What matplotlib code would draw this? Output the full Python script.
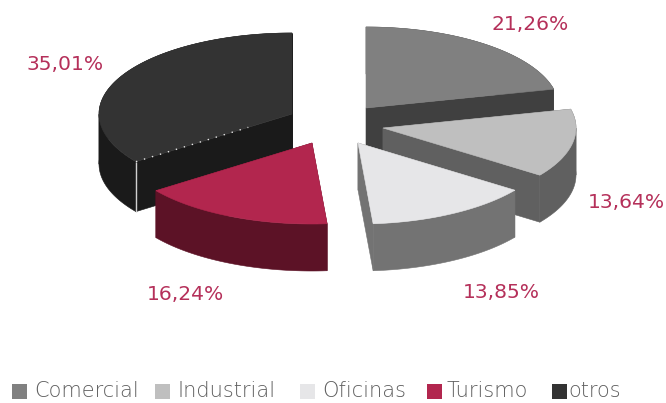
import numpy as np
import matplotlib
matplotlib.use("Agg")
import matplotlib.pyplot as plt
from matplotlib.patches import Polygon, Rectangle

categories = ["Comercial", "Industrial", "Oficinas", "Turismo", "otros"]
shares = [21.26, 13.64, 13.85, 16.24, 35.01]
value_labels = ["21,26%", "13,64%", "13,85%", "16,24%", "35,01%"]

top_colors = ["#808080", "#BFBFBF", "#E6E6E8", "#B2264E", "#333333"]
wall_colors = ["#404040", "#606060", "#737373", "#5C1226", "#1A1A1A"]
text_color = "#B5305A"
legend_text_color = "#5F5F5F"

# layout, in figure pixels
RX, RY = 193, 81
centers = [(366, 108), (383, 128), (358, 143), (312, 143), (292, 114)]
depths = [47, 47, 47, 47, 50]
label_pos = [(530, 24), (626, 203), (501, 293), (185, 295), (65, 65)]
legend_box_x = [12, 155, 300, 427, 552]
legend_text_x = [34, 178, 322, 447, 568]
legend_y = 391
draw_order = [4, 0, 1, 3, 2]

fig = plt.figure(figsize=(6.66, 4.03), dpi=100)
ax = fig.add_axes([0, 0, 1, 1])
ax.set_xlim(0, 666)
ax.set_ylim(403, 0)
ax.axis("off")

edges = np.concatenate([[0], np.cumsum(shares)]) / np.sum(shares) * 2 * np.pi


def arc(i):
    t = np.linspace(edges[i], edges[i + 1], 240)
    cx, cy = centers[i]
    return np.column_stack([cx + RX * np.sin(t), cy - RY * np.cos(t)])


def monotonic_runs(a):
    """Split an arc where its x direction turns, so each wall strip fills cleanly."""
    steps = np.sign(np.diff(a[:, 0]))
    cuts = np.flatnonzero(steps[1:] != steps[:-1]) + 1
    bounds = [0, *cuts, len(a) - 1]
    return [a[s:e + 1] for s, e in zip(bounds[:-1], bounds[1:])]


for i in draw_order:
    c = np.array(centers[i], float)
    d = np.array([0, depths[i]], float)
    a = arc(i)
    wall = wall_colors[i]
    # outer curved wall
    for run in monotonic_runs(a):
        ax.add_patch(Polygon(np.vstack([run, (run + d)[::-1]]), closed=True, fc=wall, ec=wall, lw=0.4))
    # two cut walls
    for p in (a[0], a[-1]):
        ax.add_patch(Polygon([c, p, p + d, c + d], closed=True, fc=wall, ec=wall, lw=0.4))
    # top face
    ax.add_patch(Polygon(np.vstack([c, a]), closed=True, fc=top_colors[i], ec=top_colors[i], lw=0.4))

# light seam on the "otros" slice
end = arc(4)[0]
tip = np.array(centers[4], float)
ax.plot([end[0], end[0]], [end[1], end[1] + depths[4]], color="#D0D0D0", lw=1.0, solid_capstyle="butt")
mid = end + (tip - end) * 0.72
ax.plot([end[0], mid[0]], [end[1], mid[1]], color="#E8E8E8", lw=1.0, ls=(0, (1, 5)))

for lab, (x, y) in zip(value_labels, label_pos):
    ax.text(x, y, lab, color=text_color, fontsize=14.6, fontfamily="DejaVu Sans",
            ha="center", va="center")

for name, col, bx, tx in zip(categories, top_colors, legend_box_x, legend_text_x):
    ax.add_patch(Rectangle((bx, legend_y - 7.5), 15, 15, fc=col, ec="none"))
    ax.text(tx, legend_y, name, color=legend_text_color, fontsize=15, fontfamily="DejaVu Sans",
            ha="left", va="center", fontweight="light")

fig.savefig("out.png", dpi=100, facecolor="white")
